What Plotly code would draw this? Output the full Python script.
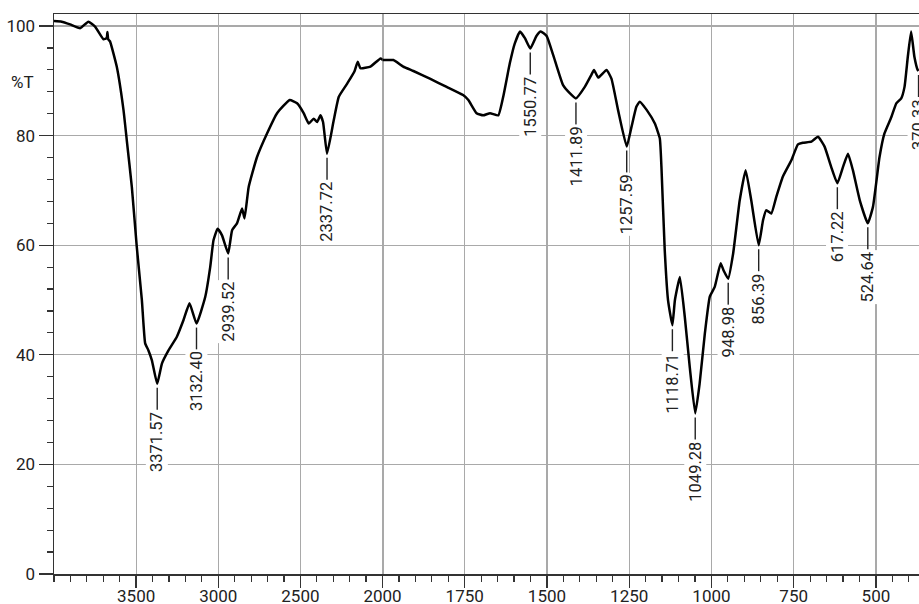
import plotly.graph_objects as go

# Wavenumber (cm-1) and transmittance (%T)
wavenumber = [4000, 3953, 3902, 3841, 3791, 3750, 3699, 3679, 3675, 3670, 3659, 3618, 3577, 3557,
              3526, 3496, 3465, 3445, 3425, 3404, 3371.57, 3343, 3303, 3252, 3212, 3175, 3132.40,
              3079, 3049, 3029, 3004, 2977, 2939.52, 2916, 2886, 2855, 2840, 2815, 2764, 2703,
              2642, 2565, 2520, 2480, 2449, 2419, 2398, 2378, 2362, 2337.72, 2297, 2266, 2215,
              2171, 2151, 2134, 2073, 2012, 1998, 1967, 1937, 1906, 1856, 1805, 1755, 1739, 1714,
              1694, 1673, 1648, 1633, 1613, 1598, 1582, 1567, 1550.77, 1532, 1519, 1501, 1481,
              1451, 1430, 1411.89, 1385, 1365, 1357, 1344, 1319, 1304, 1284, 1257.59, 1243, 1228,
              1218, 1197, 1172, 1157, 1152, 1142, 1132, 1118.71, 1111, 1096, 1081, 1066, 1049.28,
              1036, 1020, 1005, 990, 972, 963, 948.98, 934, 914, 896, 879, 856.39, 843, 833, 818,
              803, 783, 757, 737, 722, 696, 676, 656, 636, 617.22, 600, 585, 570, 549, 524.64,
              509, 489, 474, 453, 438, 423, 413, 403, 393, 383, 373, 370.33]
transmittance = [100.9, 100.8, 100.3, 99.6, 100.8, 99.9, 97.6, 97.8, 98.9, 97.6, 97.2, 92.6, 84.7, 79.2,
                 70.6, 59.7, 50.0, 42.1, 40.8, 39.0, 34.7, 38.4, 40.8, 43.3, 46.3, 49.4, 45.7,
                 50.6, 56.0, 60.9, 63.0, 61.8, 58.5, 62.7, 64.0, 66.7, 64.9, 70.6, 76.1, 80.4,
                 84.1, 86.5, 85.9, 84.1, 82.2, 83.1, 82.5, 83.7, 82.5, 76.7, 82.8, 87.1, 89.5,
                 91.7, 93.5, 92.3, 92.6, 94.1, 93.8, 93.8, 92.6, 91.8, 90.4, 88.9, 87.4, 86.5, 84.1,
                 83.7, 84.1, 83.7, 87.1, 93.2, 96.8, 99.0, 97.8, 95.9, 98.2, 99.0, 98.2, 94.7,
                 89.2, 87.7, 86.8, 88.9, 91.1, 92.0, 90.6, 92.0, 90.4, 84.7, 78.0, 81.6, 85.3,
                 86.2, 84.7, 82.2, 79.5, 74.3, 59.1, 50.0, 45.4, 50.0, 54.2, 46.9, 37.8, 29.3,
                 34.7, 43.9, 50.6, 52.4, 56.7, 55.4, 53.9, 58.5, 68.2, 73.7, 68.2, 60.0, 64.6, 66.4, 65.8,
                 68.8, 72.5, 75.5, 78.4, 78.7, 78.9, 79.8, 78.0, 74.3, 71.3, 74.3, 76.7, 73.7, 68.2, 64.0,
                 67.0, 76.1, 80.4, 83.4, 85.9, 86.8, 88.9, 94.4, 99.0, 94.4, 92.0, 91.8]

# Labelled peaks
peak_wavenumbers = [3371.57, 3132.40, 2939.52, 2337.72, 1550.77, 1411.89, 1257.59, 1118.71,
                    1049.28, 948.98, 856.39, 617.22, 524.64, 370.33]
peak_labels = ["3371.57", "3132.40", "2939.52", "2337.72", "1550.77", "1411.89", "1257.59",
               "1118.71", "1049.28", "948.98", "856.39", "617.22", "524.64", "370.33"]

left_ticks = [3500, 3000, 2500]
right_ticks = [2000, 1750, 1500, 1250, 1000, 750, 500]
y_ticks = [0, 20, 40, 60, 80, 100]

SPLIT = 2000
FONT = "Roboto"
AX = "#333333"
GRID = "#a9a9a9"

left_w = [w for w in wavenumber if w >= SPLIT]
left_t = [t for w, t in zip(wavenumber, transmittance) if w >= SPLIT]
right_w = [w for w in wavenumber if w <= SPLIT]
right_t = [t for w, t in zip(wavenumber, transmittance) if w <= SPLIT]
# join the two halves across the split
i = wavenumber.index(right_w[0])
left_w = left_w + [wavenumber[i]]
left_t = left_t + [transmittance[i]]
right_w = [wavenumber[i - 1]] + right_w
right_t = [transmittance[i - 1]] + right_t

fig = go.Figure()
line = dict(color="black", width=2.5, shape="spline", smoothing=0.4)
fig.add_trace(go.Scatter(x=left_w, y=left_t, mode="lines", line=line, xaxis="x", yaxis="y",
                         showlegend=False, hoverinfo="skip"))
fig.add_trace(go.Scatter(x=right_w, y=right_t, mode="lines", line=line, xaxis="x2", yaxis="y",
                         showlegend=False, hoverinfo="skip"))

d = (382.5 - 54) / 865.0
tickfont = dict(family=FONT, size=17, color="#222")
common_x = dict(showline=True, linecolor=AX, linewidth=1.5, mirror=True,
                ticks="outside", ticklen=12, tickwidth=1.3, tickcolor=AX,
                showgrid=True, gridcolor=GRID, gridwidth=1.2, zeroline=False,
                tickfont=tickfont, anchor="y", automargin=False, ticklabelstandoff=-6)
fig.update_layout(
    xaxis=dict(domain=[0, d], range=[4000, SPLIT], tickmode="array", tickvals=left_ticks,
               ticktext=[str(v) for v in left_ticks],
               minor=dict(dtick=100, tick0=0, ticks="outside", ticklen=6, tickcolor=AX,
                          tickwidth=1.2, showgrid=False),
               **common_x),
    xaxis2=dict(domain=[d, 1], range=[SPLIT, 369], tickmode="array", tickvals=right_ticks,
                ticktext=[str(v) for v in right_ticks],
                minor=dict(dtick=50, tick0=0, ticks="outside", ticklen=6, tickcolor=AX,
                           tickwidth=1.2, showgrid=False),
                **common_x),
    yaxis=dict(range=[0, 102.2], tickmode="array", tickvals=y_ticks,
               showline=True, linecolor=AX, linewidth=1.5, ticks="outside", ticklen=14,
               tickwidth=1.3, tickcolor=AX, showgrid=True, gridcolor=GRID, gridwidth=1.2,
               zeroline=False, tickfont=tickfont, automargin=False,
               minor=dict(dtick=4, tick0=0, ticks="outside", ticklen=6, tickcolor=AX,
                          tickwidth=1.2, showgrid=False)),
    width=919, height=604,
    margin=dict(l=54, r=0, t=14, b=30, autoexpand=False),
    paper_bgcolor="white", plot_bgcolor="white",
    font=dict(family=FONT, color="#222"),
)

# darker line at the scale change
fig.add_shape(type="line", xref="x2", yref="paper", x0=SPLIT, x1=SPLIT, y0=0, y1=1,
              line=dict(color="#555555", width=2), layer="below")

# %T label
fig.add_annotation(text="%T", xref="paper", yref="y", x=-0.036, y=89.8, showarrow=False,
                   font=tickfont, xanchor="center", yanchor="middle")

GAP, DASH = 4, 22
lookup = dict(zip(wavenumber, transmittance))
for w, lab in zip(peak_wavenumbers, peak_labels):
    ax = "x" if w > SPLIT else "x2"
    t = lookup[w]
    fig.add_shape(type="line", xref=ax, yref="y", ysizemode="pixel", yanchor=t,
                  x0=w, x1=w, y0=-GAP, y1=-(GAP + DASH),
                  line=dict(color="#222", width=1.4), layer="above")
    fig.add_annotation(text=lab, x=w, y=t, xref=ax, yref="y", showarrow=False,
                       textangle=-90, xanchor="center", yanchor="top",
                       yshift=-(GAP + DASH), bgcolor="white", borderpad=1,
                       font=dict(family=FONT, size=16.5, color="#222"))

fig.write_html(
    "out.html",
    config={"displayModeBar": False, "staticPlot": True},
    post_script="document.body.style.margin='0';document.documentElement.style.overflow='hidden';",
)
